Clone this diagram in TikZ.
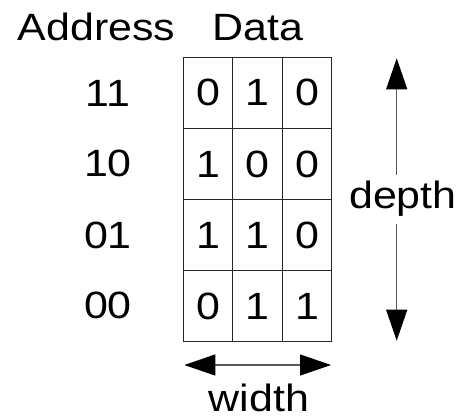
\documentclass[tikz,border=0pt]{standalone}
\usepackage{fontspec}
\setmainfont{Liberation Sans}[FakeStretch=1.13]
\usetikzlibrary{arrows.meta}
\begin{document}
\begin{tikzpicture}[x=1pt,y=-1pt,
  lbl/.style={font=\fontsize{38}{44}\selectfont, inner sep=0pt},
  cell/.style={draw=black!85, line width=1pt, minimum width=49.47pt, minimum height=71.1pt, inner sep=0pt, font=\fontsize{38}{44}\selectfont},
  dimarrow/.style={draw=black!65, line width=1.2pt, -{Triangle[length=31pt,width=21pt,color=black]}}]
\useasboundingbox (0,0) rectangle (460,418);
% headings
\node[lbl, anchor=base] (addr) at (96.5,40.7) {Address};
\node[lbl, anchor=base] (data) at (257.8,40.7) {Data};
% addresses
\node[lbl, anchor=base] (a3) at (108,106) {11};
\node[lbl, anchor=base] (a2) at (108,176.7) {10};
\node[lbl, anchor=base] (a1) at (108,248) {01};
\node[lbl, anchor=base] (a0) at (108,318.3) {00};
% grid cells
\node[cell] (c30) at (208.03,92.85) {0};
\node[cell] (c31) at (257.5,92.85) {1};
\node[cell] (c32) at (306.97,92.85) {0};
\node[cell] (c20) at (208.03,163.95) {1};
\node[cell] (c21) at (257.5,163.95) {0};
\node[cell] (c22) at (306.97,163.95) {0};
\node[cell] (c10) at (208.03,235.05) {1};
\node[cell] (c11) at (257.5,235.05) {1};
\node[cell] (c12) at (306.97,235.05) {0};
\node[cell] (c00) at (208.03,306.15) {0};
\node[cell] (c01) at (257.5,306.15) {1};
\node[cell] (c02) at (306.97,306.15) {1};
% depth arrow
\node[lbl, anchor=base] (depth) at (402.9,208.3) {depth};
\coordinate (dtop) at (396.7,58.3);
\coordinate (dbot) at (396.7,340.7);
\coordinate (dgt) at (396.7,175);
\coordinate (dgb) at (396.7,224);
\draw[dimarrow] (dgt) -- (dtop);
\draw[dimarrow] (dgb) -- (dbot);
% width arrow
\coordinate (wl) at (184.3,365);
\coordinate (wr) at (331,365);
\draw[dimarrow, {Triangle[length=31pt,width=21pt,color=black]}-{Triangle[length=31pt,width=21pt,color=black]}] (wl) -- (wr);
\node[lbl, anchor=base, text depth=0pt] (width) at (259,411.5) {width};
\end{tikzpicture}
\end{document}
